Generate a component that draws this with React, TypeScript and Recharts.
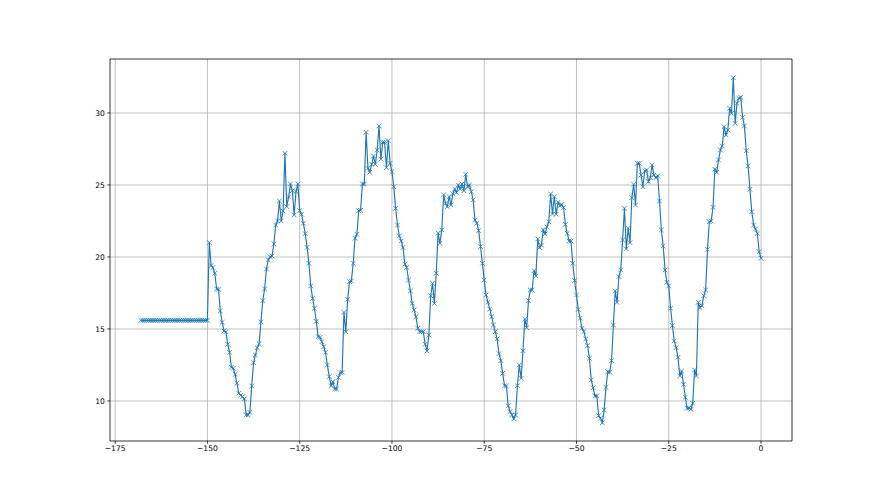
import {
  CartesianGrid,
  Line,
  LineChart,
  ReferenceLine,
  XAxis,
  YAxis,
} from "recharts";

// readings every 30 min over the last week (x in hours, 0 = now)
const startHour = -168;
const stepHours = 0.5;

// sensor was stuck before the restart
const stuckReadings = [
  15.6, 15.6, 15.6, 15.6, 15.6, 15.6, 15.6, 15.6, 15.6, 15.6,
  15.6, 15.6, 15.6, 15.6, 15.6, 15.6, 15.6, 15.6, 15.6, 15.6,
  15.6, 15.6, 15.6, 15.6, 15.6, 15.6, 15.6, 15.6, 15.6, 15.6,
  15.6, 15.6, 15.6, 15.6, 15.6, 15.6, 15.6,
];

const liveReadings = [
  21.0, 19.4, 19.26, 18.87, 17.78, 17.76, 16.25, 15.46, 14.86, 14.81,
  13.94, 13.38, 12.34, 12.27, 11.85, 11.23, 10.53, 10.4, 10.3, 10.15,
  9.03, 9.03, 9.21, 11.04, 12.66, 13.19, 13.7, 13.98, 15.49, 16.97,
  17.78, 19.17, 19.79, 20.02, 20.07, 20.9, 22.22, 22.5, 23.89, 22.5,
  23.19, 27.2, 23.5, 24.17, 25.07, 24.6, 22.92, 24.54, 25.07, 23.22,
  22.97, 22.34, 21.62, 20.67, 19.56, 17.99, 17.13, 16.44, 15.53, 14.47,
  14.42, 14.12, 13.77, 13.38, 12.5, 11.69, 11.06, 11.34, 10.83, 10.83,
  11.64, 11.97, 11.98, 16.16, 14.81, 17.06, 18.29, 18.33, 19.56, 21.3,
  21.58, 23.22, 23.24, 25.07, 25.07, 28.66, 26.16, 25.88, 26.44, 27.01,
  26.44, 27.43, 29.1, 26.8, 27.96, 27.96, 26.2, 28.08, 26.5, 25.93,
  24.88, 23.38, 22.22, 21.46, 21.11, 20.67, 19.51, 19.28, 18.4, 17.64,
  16.78, 16.32, 15.85, 15.05, 14.81, 14.81, 14.81, 13.94, 13.47, 14.58,
  17.31, 18.17, 16.78, 18.87, 21.65, 20.95, 21.88, 24.31, 23.73, 23.5,
  24.19, 23.61, 24.38, 24.72, 24.47, 25.0, 24.72, 25.07, 24.6, 25.74,
  24.88, 25.0, 24.54, 23.96, 22.57, 22.34, 21.83, 20.72, 19.56, 18.4,
  17.36, 16.85, 16.39, 15.85, 15.28, 14.81, 14.31, 13.29, 12.8, 11.92,
  11.06, 11.04, 9.67, 9.26, 9.03, 8.75, 9.03, 11.06, 12.5, 11.57,
  13.49, 15.69, 15.09, 16.97, 17.71, 17.71, 19.05, 18.68, 21.25, 20.65,
  20.82, 21.88, 21.6, 22.1, 22.45, 24.38, 22.99, 24.19, 22.97, 23.8,
  23.57, 23.64, 23.43, 22.27, 21.64, 21.11, 21.11, 19.56, 18.36, 17.36,
  16.36, 15.74, 15.05, 14.81, 14.31, 13.84, 12.96, 11.46, 10.92, 10.35,
  10.35, 8.98, 8.8, 8.49, 9.38, 10.95, 12.03, 12.0, 12.8, 15.28,
  17.64, 16.85, 18.64, 19.1, 21.18, 23.38, 20.56, 21.99, 20.99, 24.12,
  25.05, 23.61, 26.5, 26.5, 25.69, 24.88, 25.97, 26.04, 25.23, 25.51,
  26.39, 25.69, 25.51, 25.63, 23.89, 21.88, 20.76, 19.1, 18.24, 17.99,
  16.44, 15.23, 14.17, 13.7, 13.03, 11.74, 12.08, 11.16, 10.26, 9.49,
  9.51, 9.42, 9.84, 12.15, 11.74, 16.85, 16.48, 16.62, 17.31, 17.71,
  20.53, 22.45, 22.5, 23.45, 26.09, 25.88, 26.74, 27.43, 27.71, 29.05,
  28.47, 28.82, 30.33, 29.98, 32.45, 29.28, 30.67, 31.02, 31.09, 29.7,
  29.1, 27.38, 26.32, 24.7, 23.15, 22.22, 21.94, 21.64, 20.37, 19.91,
];

const xTicks = [-175, -150, -125, -100, -75, -50, -25, 0];
const yTicks = [10, 15, 20, 25, 30];

const xDomain: [number, number] = [-176.4, 8.4];
const yDomain: [number, number] = [7.22, 33.75];

const lineColor = "#1f77b4";
const font = "'DejaVu Sans', sans-serif";
const spine = { stroke: "#000", strokeWidth: 0.8 };

const data = [...stuckReadings, ...liveReadings].map((v, i) => ({
  hour: startHour + i * stepHours,
  value: v,
}));

function fmt(n: number) {
  return String(n).replace("-", "\u2212");
}

// matplotlib style "x" marker
function XMarker(props: any) {
  const { cx, cy, index } = props;
  if (cx == null || cy == null) {
    return <g key={`m-${index}`} />;
  }
  const r = 2.3;
  return (
    <path
      key={`m-${index}`}
      d={`M${cx - r},${cy - r}L${cx + r},${cy + r}M${cx - r},${cy + r}L${cx + r},${cy - r}`}
      fill="none"
      stroke={lineColor}
      strokeWidth={0.8}
    />
  );
}

export default function App() {
  const tickStyle = { fill: "#000", fontSize: 7.6, fontFamily: font };
  return (
    <div
      style={{
        position: "absolute",
        left: 0,
        top: 0,
        width: 880,
        height: 495,
        background: "#fff",
      }}
    >
      <LineChart
        data={data}
        height={495}
        margin={{ top: 59, right: 88, bottom: 30, left: 70 }}
        width={880}
      >
        <CartesianGrid
          horizontalValues={yTicks}
          stroke="#b0b0b0"
          strokeWidth={0.8}
          verticalValues={xTicks}
        />
        <XAxis
          allowDataOverflow
          axisLine={spine}
          dataKey="hour"
          domain={xDomain}
          height={24}
          interval={0}
          tick={tickStyle}
          tickFormatter={fmt}
          tickLine={spine}
          tickMargin={2}
          tickSize={2.7}
          ticks={xTicks}
          type="number"
        />
        <YAxis
          allowDataOverflow
          axisLine={spine}
          domain={yDomain}
          interval={0}
          tick={tickStyle}
          tickFormatter={fmt}
          tickLine={spine}
          tickMargin={2.5}
          tickSize={2.7}
          ticks={yTicks}
          type="number"
          width={40}
        />
        {/* top and right spines */}
        <ReferenceLine {...spine} y={yDomain[1]} />
        <ReferenceLine {...spine} x={xDomain[1]} />
        <Line
          activeDot={false}
          dataKey="value"
          dot={XMarker}
          isAnimationActive={false}
          stroke={lineColor}
          strokeWidth={1.15}
          type="linear"
        />
      </LineChart>
    </div>
  );
}
